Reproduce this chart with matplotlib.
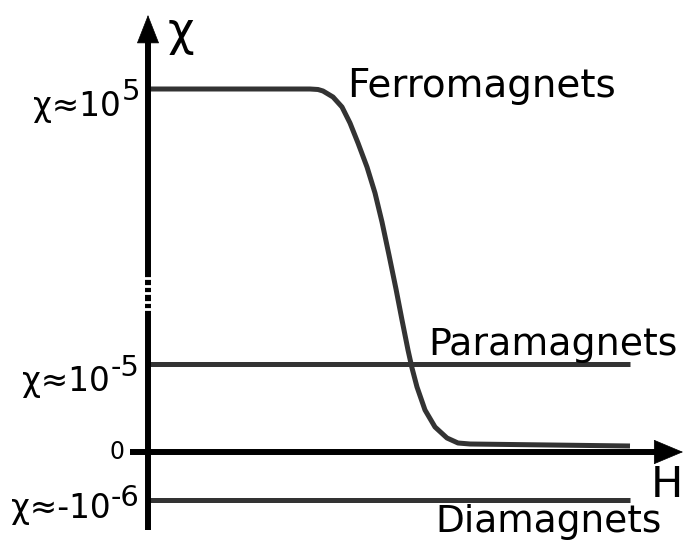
import matplotlib
matplotlib.use("Agg")
import matplotlib.pyplot as plt

plt.rcParams['font.family'] = ['DejaVu Sans']

# ---- data (schematic units: display level of chi above the H axis) ----
materials = ['Ferromagnets', 'Paramagnets', 'Diamagnets']
level_values = [3.63, 0.88, -0.48]
level_mains = ['χ≈10', 'χ≈10', 'χ≈-10']
level_exps = ['5', '-5', '-6']
h_max = 4.82

# ferromagnet curve
ferro_H = [0.00, 1.62, 1.70, 1.75, 1.85, 1.94, 2.02, 2.10, 2.19, 2.27, 2.34, 2.41,
           2.48, 2.54, 2.60, 2.64, 2.69, 2.77, 2.87, 2.99, 3.10, 3.22, 4.82]
ferro_chi = [3.63, 3.63, 3.625, 3.61, 3.55, 3.45, 3.29, 3.09, 2.85, 2.59, 2.30, 1.97,
             1.63, 1.32, 1.02, 0.84, 0.65, 0.42, 0.25, 0.14, 0.09, 0.08, 0.06]

fig = plt.figure(figsize=(6.85, 5.4), dpi=100)
ax = fig.add_axes([0, 0, 1, 1])
ax.set_xlim(-1.48, 5.37)
ax.set_ylim(-0.88, 4.52)
ax.axis('off')

gray = '#333333'
lw_line = 3.6
lw_axis = 4.3

for v in level_values[1:]:
    ax.plot([0, h_max], [v, v], color=gray, lw=lw_line, solid_capstyle='butt', zorder=2)
ax.plot(ferro_H, ferro_chi, color=gray, lw=lw_line, solid_capstyle='butt',
        solid_joinstyle='round', zorder=2)

# axes
ax.plot([0, 0], [-0.78, 4.12], color='black', lw=lw_axis, solid_capstyle='butt', zorder=3)
ax.plot([-0.18, 5.09], [0, 0], color='black', lw=lw_axis, solid_capstyle='butt', zorder=3)
ax.annotate('', xy=(0, 4.37), xytext=(0, 4.05),
            arrowprops=dict(arrowstyle='-|>,head_length=0.97,head_width=0.38',
                            mutation_scale=20, lw=0.5, color='black',
                            shrinkA=0, shrinkB=0), zorder=4)
ax.annotate('', xy=(5.35, 0), xytext=(5.02, 0),
            arrowprops=dict(arrowstyle='-|>,head_length=1.0,head_width=0.42',
                            mutation_scale=20, lw=0.5, color='black',
                            shrinkA=0, shrinkB=0), zorder=4)

# axis break marks
for yb in [1.745, 1.665, 1.59, 1.505, 1.435]:
    ax.plot([-0.05, 0.05], [yb, yb], color='white', lw=2.0, solid_capstyle='butt', zorder=5)

# axis labels
ax.text(0.33, 4.19, 'χ', fontsize=33, ha='center', va='center')
ax.text(5.19, -0.33, 'H', fontsize=31, ha='center', va='center')
ax.text(-0.31, 0.0, '0', fontsize=17, ha='center', va='center')

# level labels
main_baselines = [3.42, 0.67, -0.60]
exp_raise = [10, 9, 6]
for v, m, e, yb, r in zip(level_values, level_mains, level_exps, main_baselines, exp_raise):
    et = ax.annotate(e, xy=(-0.08, yb), xytext=(0, r), textcoords='offset pixels',
                     fontsize=21, ha='right', va='baseline')
    ax.annotate(m, xy=(0, 0), xycoords=et, xytext=(-1, -r), textcoords='offset pixels',
                fontsize=23.5, ha='right', va='baseline')

# material labels
ax.text(1.99, 3.55, materials[0], fontsize=28, ha='left', va='baseline')
ax.text(2.80, 0.97, materials[1], fontsize=27.3, ha='left', va='baseline')
ax.text(2.87, -0.80, materials[2], fontsize=27, ha='left', va='baseline')

fig.savefig('out.png', dpi=100)
